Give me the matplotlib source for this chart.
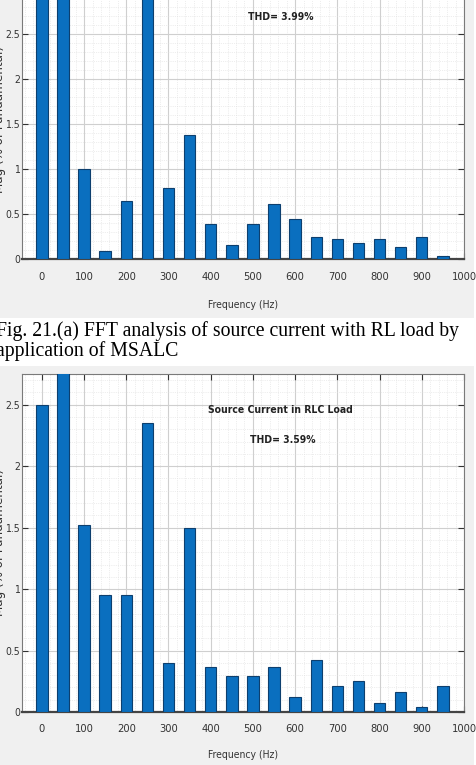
import matplotlib.pyplot as plt
from matplotlib.patches import Rectangle
from matplotlib.ticker import MultipleLocator

# harmonic frequencies (Hz)
freq = [0, 50, 100, 150, 200, 250, 300, 350, 400, 450, 500,
        550, 600, 650, 700, 750, 800, 850, 900, 950]

# (a) RL load, source current, % of fundamental (tall bars are clipped)
mag_rl = [3.4, 100.0, 1.0, 0.09, 0.65, 3.3, 0.79, 1.38, 0.39, 0.16, 0.39,
          0.61, 0.45, 0.25, 0.22, 0.18, 0.22, 0.13, 0.25, 0.03]

# (b) RLC load
mag_rlc = [2.5, 100.0, 1.52, 0.95, 0.95, 2.35, 0.40, 1.50, 0.37, 0.29, 0.29,
           0.37, 0.12, 0.42, 0.21, 0.25, 0.07, 0.16, 0.04, 0.21]

xticks = list(range(0, 1001, 100))
yticks = [0, 0.5, 1, 1.5, 2, 2.5]

W, H = 477, 765
fig = plt.figure(figsize=(W / 100, H / 100), dpi=100)
fig.patch.set_facecolor('white')

gray = '#f0f0f0'
fig.add_artist(Rectangle((0, 1 - 318 / H), 474 / W, 318 / H,
                         transform=fig.transFigure, facecolor=gray, edgecolor='none', zorder=0))
fig.add_artist(Rectangle((0, 0), 474 / W, (H - 366) / H,
                         transform=fig.transFigure, facecolor=gray, edgecolor='none', zorder=0))

sans = 'DejaVu Sans'


def make_axes(top_px, bottom_px, ymax, values, xlabel_px):
    ax = fig.add_axes([22 / W, 1 - bottom_px / H, 442 / W, (bottom_px - top_px) / H])
    ax.set_facecolor('white')
    ax.bar(freq, values, width=27, color='#0a6fbf', edgecolor='#0d3f6e', linewidth=0.8, zorder=3)
    ax.set_xlim(-47, 1000)
    ax.set_ylim(0, ymax)
    ax.set_xticks(xticks)
    ax.set_yticks(yticks)
    ax.set_yticklabels(['0', '0.5', '1', '1.5', '2', '2.5'])
    ax.xaxis.set_minor_locator(MultipleLocator(20))
    ax.yaxis.set_minor_locator(MultipleLocator(0.1))
    ax.grid(True, which='major', color='#cfcfcf', linewidth=0.8, zorder=0)
    ax.grid(True, which='minor', color='#dedede', linewidth=0.5, linestyle=':', zorder=0)
    ax.tick_params(which='major', direction='in', length=4, right=True, top=True,
                   labelsize=8, colors='#333333')
    ax.tick_params(axis='x', pad=9)
    ax.tick_params(axis='y', pad=1.5, labelsize=7.5)
    ax.tick_params(which='minor', length=0)
    for lbl in ax.get_xticklabels() + ax.get_yticklabels():
        lbl.set_family(sans)
        lbl.set_fontstretch('condensed')
    for s in ax.spines.values():
        s.set_color('#7a7a7a')
        s.set_linewidth(0.8)
    ax.spines['bottom'].set_color('#444444')
    ax.spines['bottom'].set_linewidth(1.6)
    ax.set_xlabel('Frequency (Hz)', family=sans, fontstretch='condensed', fontsize=7.5,
                  color='#333333')
    ax.xaxis.set_label_coords(0.5, -(xlabel_px - bottom_px) / (bottom_px - top_px))
    ax.set_ylabel('Mag (% of Fundamental)', family=sans, fontstretch='condensed', fontsize=9.5,
                  color='#333333', va='center')
    ax.yaxis.set_label_coords(-22 / 442, 0.5)
    return ax


ax1 = make_axes(-20, 259, 3.1, mag_rl, 300)
ax1.text(565, 2.69, 'THD= 3.99%', ha='center', va='center', fontsize=7.5,
         fontweight='bold', family=sans, fontstretch='condensed', color='#222222')

ax2 = make_axes(374, 712, 2.75, mag_rlc, 750)
ax2.text(565, 2.46, 'Source Current in RLC Load', ha='center', va='center', fontsize=7.5,
         fontweight='bold', family=sans, fontstretch='condensed', color='#222222')
ax2.text(570, 2.21, 'THD= 3.59%', ha='center', va='center', fontsize=7.5,
         fontweight='bold', family=sans, fontstretch='condensed', color='#222222')

fig.text(-4 / W, 1 - 331 / H, 'Fig. 21.(a) FFT analysis of source current with RL load by',
         family='Liberation Serif', fontsize=14.2, va='center', ha='left')
fig.text(-4 / W, 1 - 351 / H, 'application of MSALC',
         family='Liberation Serif', fontsize=14.2, va='center', ha='left')

fig.savefig('out.png', dpi=100, facecolor=fig.get_facecolor())
